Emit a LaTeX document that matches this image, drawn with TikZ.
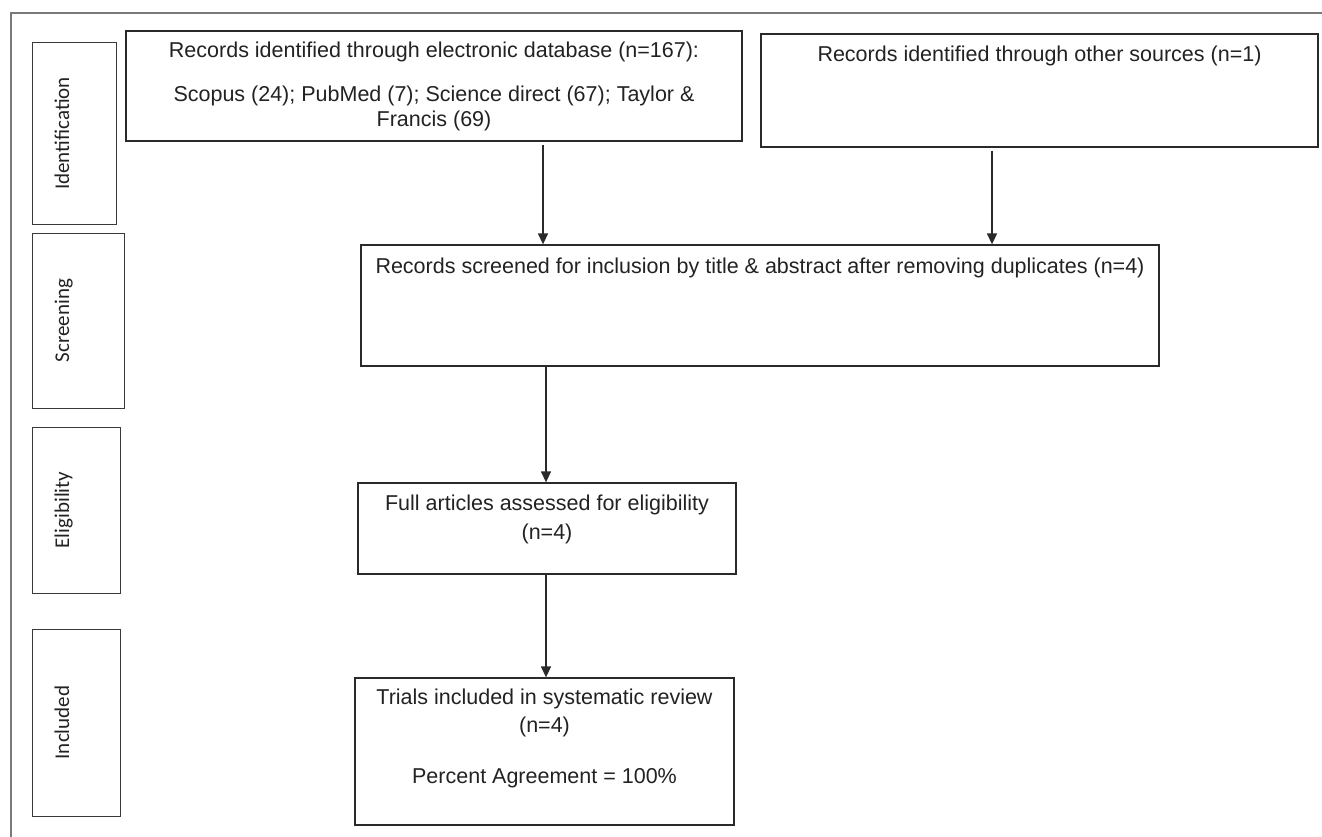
\documentclass[tikz,border=0pt]{standalone}
\usepackage{fontspec}
\setmainfont{Liberation Sans}
\newfontfamily\stagefont{Carlito}
\usetikzlibrary{arrows.meta}
\definecolor{boxc}{HTML}{2A2A2A}
\definecolor{stagec}{HTML}{3A3A3A}
\definecolor{framec}{HTML}{7A7A7A}
\definecolor{txtc}{HTML}{222222}
\begin{document}
\begin{tikzpicture}[x=1pt,y=-1pt,
  box/.style={draw=boxc, line width=1.3pt, inner sep=0pt},
  stagebox/.style={draw=stagec, line width=1pt, inner sep=0pt},
  txt/.style={inner sep=0pt, anchor=base, text=txtc, font=\fontsize{21.5}{25}\selectfont},
  stagetxt/.style={inner sep=0pt, anchor=base, rotate=90, text=txtc, font=\stagefont\fontsize{21}{25}\selectfont},
  arr/.style={draw=boxc, line width=1.4pt, -{Triangle[width=10pt,length=11pt]}}]
\useasboundingbox (0,0) rectangle (1322,837);
% outer frame (top and left only)
\draw[framec, line width=1.5pt] (1322,13) -- (11,13) -- (11,837);

% stage boxes
\node[stagebox, minimum width=84pt, minimum height=181pt] (s1) at (74,133.5) {};
\node[stagebox, minimum width=92pt, minimum height=175pt] (s2) at (78,320.5) {};
\node[stagebox, minimum width=88pt, minimum height=166pt] (s3) at (76,510) {};
\node[stagebox, minimum width=88pt, minimum height=187pt] (s4) at (76,722.5) {};
\node[stagetxt] (l1) at (69,133.5) {Identification};
\node[stagetxt] (l2) at (69,320.5) {Screening};
\node[stagetxt] (l3) at (69,510) {Eligibility};
\node[stagetxt] (l4) at (69,722.5) {Included};

% flow boxes
\node[box, minimum width=616pt, minimum height=110pt] (b1) at (434,86) {};
\node[box, minimum width=557pt, minimum height=113pt] (b2) at (1039.5,90.5) {};
\node[box, minimum width=798pt, minimum height=121pt] (scr) at (760,305.5) {};
\node[box, minimum width=378pt, minimum height=91pt] (eli) at (547,528.5) {};
\node[box, minimum width=379pt, minimum height=147pt] (inc) at (544.5,751.5) {};

% texts
\node[txt] (t1a) at (434,58) {Records identified through electronic database (n=167):};
\node[txt] (t1b) at (434,102) {Scopus (24); PubMed (7); Science direct (67); Taylor \&};
\node[txt] (t1c) at (434,127) {Francis (69)};
\node[txt] (t2) at (1039.5,62) {Records identified through other sources (n=1)};
\node[txt] (t3) at (760,273) {Records screened for inclusion by title \& abstract after removing duplicates (n=4)};
\node[txt] (t4a) at (547,510) {Full articles assessed for eligibility};
\node[txt] (t4b) at (547,539) {(n=4)};
\node[txt] (t5a) at (544.5,704) {Trials included in systematic review};
\node[txt] (t5b) at (544.5,732) {(n=4)};
\node[txt] (t5c) at (544.5,783) {Percent Agreement = 100\%};

% arrows
\coordinate (a1) at (543,0);
\coordinate (a2) at (992,0);
\coordinate (a3) at (546,0);
\draw[arr, shorten <=3pt] (b1.south -| a1) -- (scr.north -| a1);
\draw[arr, shorten <=3pt] (b2.south -| a2) -- (scr.north -| a2);
\draw[arr] (scr.south -| a3) -- (eli.north -| a3);
\draw[arr] (eli.south -| a3) -- (inc.north -| a3);
\end{tikzpicture}
\end{document}
